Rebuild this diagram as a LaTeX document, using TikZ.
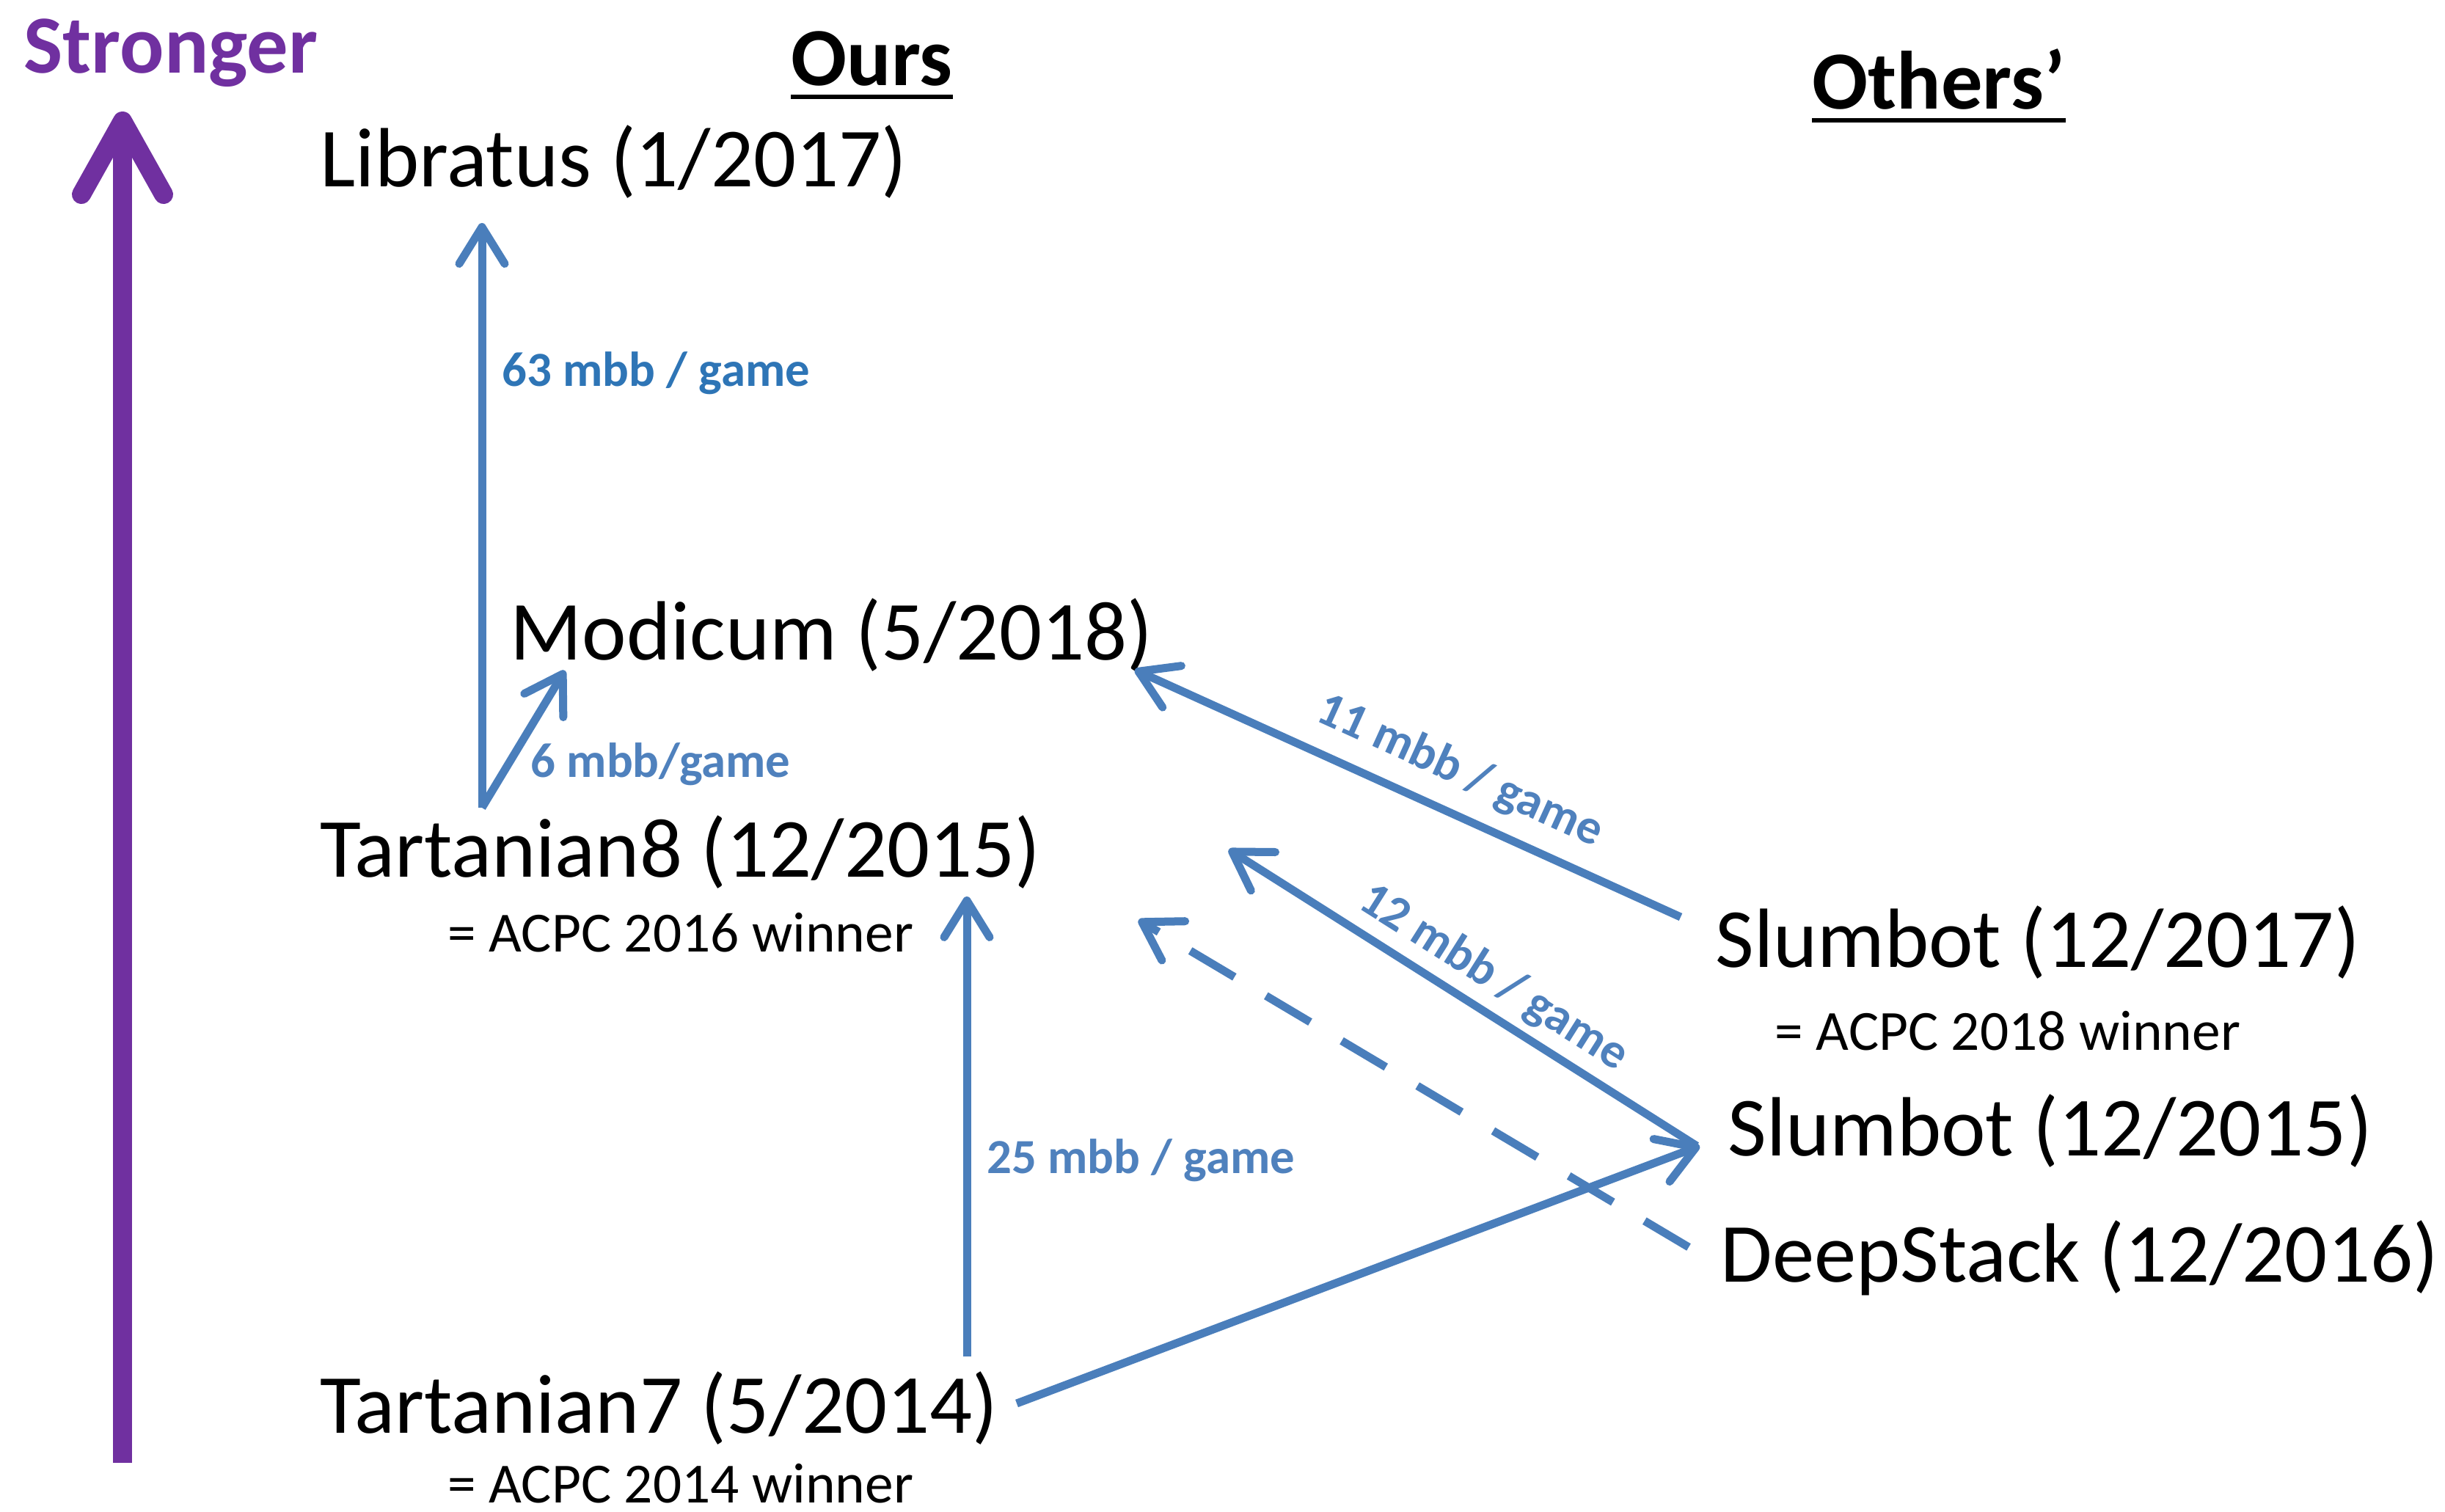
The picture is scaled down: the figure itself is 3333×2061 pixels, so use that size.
\documentclass[tikz,border=0pt]{standalone}
\usepackage{fontspec}
\setmainfont{Carlito}
\usetikzlibrary{arrows.meta,calc}
\definecolor{linkblue}{HTML}{4A7EBB}
\definecolor{labelblue}{HTML}{4F81BD}
\definecolor{brightblue}{HTML}{2E75B6}
\definecolor{strongpurple}{HTML}{7030A0}
\begin{document}
\begin{tikzpicture}[x=0.01cm,y=-0.01cm,
  bot/.style={inner sep=0pt, anchor=base west, font=\fontsize{32.6}{38}\selectfont},
  note/.style={inner sep=0pt, anchor=base west, font=\fontsize{22}{26}\selectfont},
  head/.style={inner sep=0pt, anchor=base west, font=\bfseries\fontsize{32}{38}\selectfont},
  gain/.style={inner sep=0pt, font=\bfseries\fontsize{19}{23}\selectfont, text=labelblue},
  link/.style={draw=linkblue, line width=0.11cm, -{Straight Barb[length=0.5cm,width=0.62cm,round]}},
  uline/.style={line width=0.065cm},
]
\fill[white] (0,0) rectangle (3333,2061);
\useasboundingbox (0,0) rectangle (3333,2061);

% strength axis
\node[head, text=strongpurple] (stronger) at (32,100) {Stronger};
\coordinate (axisbottom) at (167,1994);
\draw[strongpurple, line width=0.26cm, -{Straight Barb[length=1.0cm,width=1.12cm,round]}]
  (axisbottom) -- ($(stronger.base west)+(135,52)$);

% column headings
\node[head] (ours) at (1078,117) {Ours};
\node[head] (others) at (2470,149) {Others’};
\draw[uline] ([yshift=-0.15cm]ours.base west) -- ([yshift=-0.15cm]ours.base east);
\draw[uline] ([yshift=-0.15cm]others.base west) -- ([yshift=-0.15cm]others.base east);

% bots
\node[bot] (lib) at (436,255) {Libratus (1/2017)};
\node[bot] (mod) at (695,899) {Modicum (5/2018)};
\node[bot] (t8) at (436,1195) {Tartanian8 (12/2015)};
\node[note] (t8note) at (610,1297) {= ACPC 2016 winner};
\node[bot] (t7) at (436,1953) {Tartanian7 (5/2014)};
\node[note] (t7note) at (610,2048) {= ACPC 2014 winner};
\node[bot] (s17) at (2338,1318) {Slumbot (12/2017)};
\node[note] (s17note) at (2419,1431) {= ACPC 2018 winner};
\node[bot] (s15) at (2355,1575) {Slumbot (12/2015)};
\node[bot] (ds) at (2345,1747) {DeepStack (12/2016)};

% head-to-head results
\draw[link] ($(t8.base west)+(221,-94)$) -- ($(lib.base west)+(221,49)$);
\draw[link] ($(t8.base west)+(221,-94)$) -- ($(mod.base west)+(75,15)$);
\draw[link] ($(s17.base west)+(-47,-68)$) -- ($(mod.base west)+(852,14)$);
\draw[link] ($(s15.base west)+(-42,-13)$) -- ($(t8.base west)+(1239,-37)$);
\draw[link, dash pattern=on 0.7cm off 0.5cm] ($(ds.base west)+(-43,-47)$) -- ($(t8.base west)+(1116,59)$);
\draw[link] ($(t7.base west)+(882,-104)$) -- ($(t8.base west)+(882,27)$);
\draw[link] ($(t7.base west)+(950,-40)$) -- ($(s15.base west)+(-38,-13)$);

% margins
\node[gain, text=brightblue, anchor=base west] (g63) at (684,526) {63 mbb / game};
\node[gain, anchor=base west] (g6) at (723,1059) {6 mbb/game};
\node[gain, anchor=base west] (g25) at (1345,1599) {25 mbb / game};
\node[gain, rotate=-24.4] (g11) at (1990,1052) {11 mbb / game};
\node[gain, rotate=-32.3] (g12) at (2036,1333) {12 mbb / game};
\end{tikzpicture}
\end{document}
